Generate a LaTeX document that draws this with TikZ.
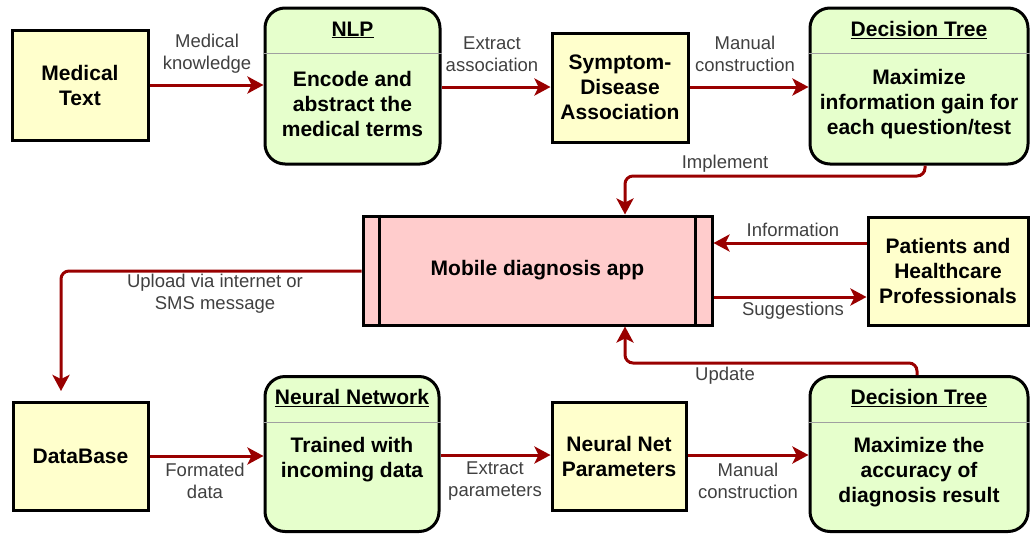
\documentclass[tikz,border=0pt]{standalone}
\usepackage{fontspec}
\setmainfont{Liberation Sans}
\usetikzlibrary{arrows.meta}
\definecolor{boxyellow}{HTML}{FFFFCC}
\definecolor{boxgreen}{HTML}{E6FFCC}
\definecolor{boxpink}{HTML}{FFCCCC}
\definecolor{arrred}{HTML}{990000}
\definecolor{labgray}{HTML}{404040}
\definecolor{divgray}{HTML}{A0A0A0}
\tikzset{
  boxtext/.style={font=\fontsize{21}{25}\selectfont\bfseries, text=black, align=center},
  yellowbox/.style={draw=black, line width=3pt, fill=boxyellow, boxtext, inner sep=0pt},
  greenbox/.style={draw=black, line width=3pt, fill=boxgreen, rounded corners=20pt, inner sep=0pt},
  pinkbox/.style={draw=black, line width=3pt, fill=boxpink, boxtext, inner sep=0pt},
  lbl/.style={font=\fontsize{18.5}{22}\selectfont, text=labgray, align=center, inner sep=0pt},
  conn/.style={draw=arrred, line width=3pt, -{Stealth[length=16pt,width=17pt,inset=4pt]}, rounded corners=8pt},
  divider/.style={draw=divgray, line width=1pt}
}
\begin{document}
\begin{tikzpicture}[x=1pt,y=-1pt]
\useasboundingbox (0,0) rectangle (1030,533);
% top row
\node[yellowbox, minimum width=136pt, minimum height=110pt] (mt) at (80,85) {Medical\\Text};
\node[greenbox, minimum width=175pt, minimum height=156pt] (nlp) at (352.5,86) {};
\node[boxtext] (nlpt) at (352.5,30) {\underline{NLP}};
\node[boxtext] (nlpb) at (352.5,104) {Encode and\\abstract the\\medical terms};
\draw[divider] (nlp.west |- 0,53) -- (nlp.east |- 0,53);
\node[yellowbox, minimum width=136pt, minimum height=109pt] (sd) at (620,87.5) {Symptom-\\Disease\\Association};
\node[greenbox, minimum width=218pt, minimum height=156pt] (dt1) at (919,86) {};
\node[boxtext] (dt1t) at (919,30) {\underline{Decision Tree}};
\node[boxtext] (dt1b) at (919,104) {Maximize\\information gain for\\each question/test};
\draw[divider] (dt1.west |- 0,53) -- (dt1.east |- 0,53);
% middle row
\node[pinkbox, minimum width=349pt, minimum height=109pt] (app) at (537.5,270.5) {Mobile diagnosis app};
\draw[line width=3pt] ([xshift=18pt]app.north west) -- ([xshift=18pt]app.south west);
\draw[line width=3pt] ([xshift=-18pt]app.north east) -- ([xshift=-18pt]app.south east);
\node[yellowbox, minimum width=160pt, minimum height=108pt] (pat) at (948,271) {Patients and\\Healthcare\\Professionals};
% bottom row
\node[yellowbox, minimum width=135pt, minimum height=108pt] (db) at (80.5,456) {DataBase};
\node[greenbox, minimum width=174pt, minimum height=155pt] (nn) at (352,454) {};
\node[boxtext] (nnt) at (352,398) {\underline{Neural Network}};
\node[boxtext] (nnb) at (352,460) {Trained with\\incoming data};
\draw[divider] (nn.west |- 0,422) -- (nn.east |- 0,422);
\node[yellowbox, minimum width=134pt, minimum height=108pt] (nnp) at (619,456) {Neural Net\\Parameters};
\node[greenbox, minimum width=218pt, minimum height=155pt] (dt2) at (919,454) {};
\node[boxtext] (dt2t) at (919,398) {\underline{Decision Tree}};
\node[boxtext] (dt2b) at (919,472) {Maximize the\\accuracy of\\diagnosis result};
\draw[divider] (dt2.west |- 0,422) -- (dt2.east |- 0,422);
% connectors
\draw[conn] (mt.east |- 0,85) -- (nlp.west |- 0,85);
\draw[conn] (nlp.east |- 0,87) -- (sd.west |- 0,87);
\draw[conn] (sd.east |- 0,87) -- (dt1.west |- 0,87);
\coordinate (implx) at (925,0);
\coordinate (appx) at (625,0);
\draw[conn] (dt1.south -| implx) -- (925,176) -- (625,176) -- (app.north -| appx);
\coordinate (upend) at (61,391);
\draw[conn] (app.west |- 0,271) -- (61,271) -- (upend);
\draw[conn] (pat.west |- 0,243) -- (app.east |- 0,243);
\draw[conn] (app.east |- 0,297) -- (pat.west |- 0,297);
\draw[conn] (dt2.north -| 917,0) -- (917,363) -- (625,363) -- (app.south -| appx);
\draw[conn] (db.east |- 0,456) -- (nn.west |- 0,456);
\draw[conn] (nn.east |- 0,455) -- (nnp.west |- 0,455);
\draw[conn] (nnp.east |- 0,455) -- (dt2.west |- 0,455);
% labels
\node[lbl] (l1) at (207,54) {Medical\\knowledge};
\node[lbl] (l2) at (492,54) {Extract\\association};
\node[lbl] (l3) at (745,54) {Manual\\construction};
\node[lbl] (l4) at (725,164) {Implement};
\node[lbl] (l5) at (215,294) {Upload via internet or\\SMS message};
\node[lbl] (l6) at (793,230) {Information};
\node[lbl] (l7) at (793,311) {Suggestions};
\node[lbl] (l8) at (725,376) {Update};
\node[lbl] (l9) at (205,481) {Formated\\data};
\node[lbl] (l10) at (495,481) {Extract\\parameters};
\node[lbl] (l11) at (748,481) {Manual\\construction};
\end{tikzpicture}
\end{document}
